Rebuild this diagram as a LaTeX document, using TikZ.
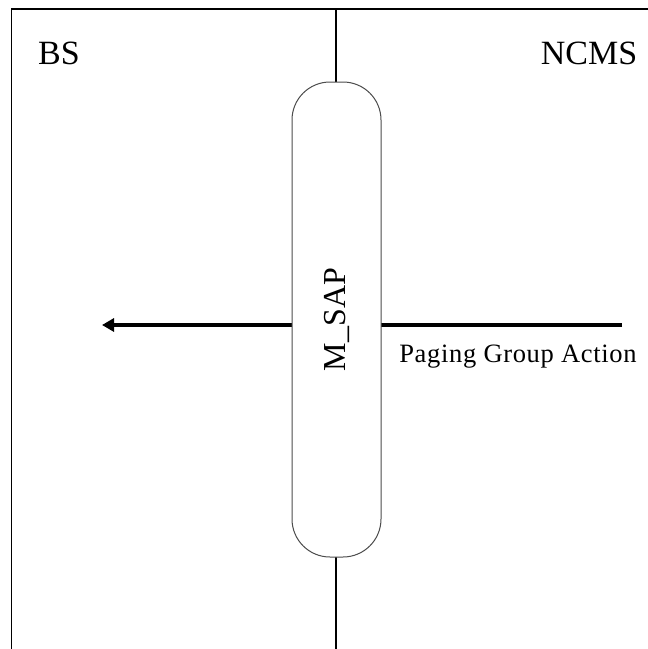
\documentclass[tikz,border=0pt]{standalone}
\usepackage{fontspec}
\setmainfont{Liberation Serif}
\usetikzlibrary{arrows.meta}
\newcommand{\arw}{-{Triangle[length=12pt,width=13pt]}}

\begin{document}
\begin{tikzpicture}[x=1pt,y=-1pt]
\useasboundingbox (0,0) rectangle (648,649);
%frame
\coordinate (tl) at (11.5,9);
\coordinate (tr) at (648,9);
\coordinate (bl) at (11.5,649);
\draw[line width=1.2pt] (bl) -- (tl) -- (tr);
%service access point
\coordinate (st) at (336,9);
\coordinate (sb) at (336,649);
\draw[line width=1.8pt] (st) -- (sb);
%message
\coordinate (from) at (622,325);
\coordinate (to) at (102,325);
\draw[line width=4pt,\arw] (from) -- (to);
\node[draw=black!70,fill=white,line width=1pt,rounded corners=38pt,minimum width=475pt,minimum height=89pt,rotate=90,inner sep=0pt,font=\fontsize{32}{32}\selectfont] (sap) at (336.5,319.5) {M\_SAP};
\node[font=\fontsize{34}{34}\selectfont] (bs) at (59,53.5) {BS};
\node[font=\fontsize{34}{34}\selectfont] (ncms) at (589,53.5) {NCMS};
\node[font=\fontsize{26.5}{26.5}\selectfont\addfontfeature{LetterSpace=2.5}] (msg) at (518,357) {Paging Group Action};
\end{tikzpicture}
\end{document}
